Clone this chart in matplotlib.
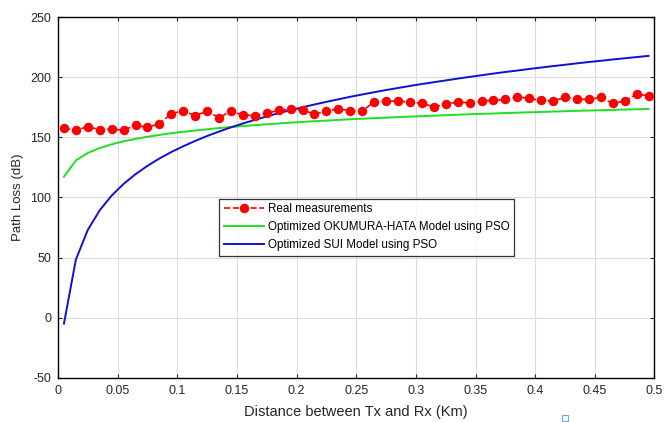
import matplotlib
matplotlib.use('Agg')
import matplotlib.pyplot as plt
from matplotlib.patches import Rectangle

plt.rcParams['font.family'] = ['Liberation Sans', 'DejaVu Sans']
plt.rcParams['axes.unicode_minus'] = False

# distance (km)
distance = [0.005, 0.015, 0.025, 0.035, 0.045, 0.055, 0.065, 0.075, 0.085, 0.095,
            0.105, 0.115, 0.125, 0.135, 0.145, 0.155, 0.165, 0.175, 0.185, 0.195,
            0.205, 0.215, 0.225, 0.235, 0.245, 0.255, 0.265, 0.275, 0.285, 0.295,
            0.305, 0.315, 0.325, 0.335, 0.345, 0.355, 0.365, 0.375, 0.385, 0.395,
            0.405, 0.415, 0.425, 0.435, 0.445, 0.455, 0.465, 0.475, 0.485, 0.495]

# measured path loss (dB)
measured = [157.5, 156.0, 158.8, 156.3, 156.9, 155.8, 160.2, 158.3, 161.3, 169.6,
            172.1, 168.0, 171.8, 166.3, 171.8, 168.5, 168.0, 169.9, 172.6, 173.2,
            172.6, 169.3, 171.8, 173.7, 172.1, 171.8, 179.5, 180.1, 180.1, 179.3,
            178.2, 175.4, 177.6, 179.3, 178.7, 180.1, 180.7, 181.5, 183.7, 182.3,
            180.7, 180.1, 183.2, 181.8, 181.5, 183.2, 178.2, 180.1, 185.9, 184.5]

# okumura-hata after pso
okumura = [117.3, 130.8, 137.0, 141.1, 144.2, 146.7, 148.7, 150.5, 152.0, 153.4,
           154.6, 155.7, 156.7, 157.7, 158.5, 159.4, 160.1, 160.8, 161.5, 162.2,
           162.8, 163.4, 163.9, 164.5, 165.0, 165.5, 165.9, 166.4, 166.8, 167.2,
           167.6, 168.0, 168.4, 168.8, 169.2, 169.5, 169.8, 170.2, 170.5, 170.8,
           171.1, 171.4, 171.7, 172.0, 172.3, 172.5, 172.8, 173.1, 173.3, 173.6]

# sui after pso
sui = [-4.8, 48.4, 73.1, 89.4, 101.6, 111.3, 119.4, 126.3, 132.4, 137.8,
       142.6, 147.0, 151.1, 154.8, 158.3, 161.5, 164.5, 167.4, 170.1, 172.6,
       175.0, 177.3, 179.5, 181.6, 183.7, 185.6, 187.5, 189.3, 191.0, 192.7,
       194.3, 195.8, 197.3, 198.8, 200.2, 201.6, 203.0, 204.3, 205.5, 206.8,
       208.0, 209.2, 210.3, 211.5, 212.6, 213.6, 214.7, 215.7, 216.7, 217.7]

x_ticks = [0, 0.05, 0.1, 0.15, 0.2, 0.25, 0.3, 0.35, 0.4, 0.45, 0.5]
x_tick_labels = ['0', '0.05', '0.1', '0.15', '0.2', '0.25', '0.3', '0.35', '0.4', '0.45', '0.5']
y_ticks = [-50, 0, 50, 100, 150, 200, 250]

fig = plt.figure(figsize=(6.65, 4.22), dpi=100)
ax = fig.add_axes([0.0872, 0.1043, 0.8970, 0.8554])

ax.plot(distance, measured, '--', color='#ff0000', lw=1.2, marker='o',
        markersize=5.8, markeredgecolor='#ff0000', markerfacecolor='#ff0000',
        label='Real measurements', zorder=3)
ax.plot(distance, okumura, '-', color='#1ee01e', lw=1.4,
        label='Optimized OKUMURA-HATA Model using PSO', zorder=2)
ax.plot(distance, sui, '-', color='#0f0fd6', lw=1.4,
        label='Optimized SUI Model using PSO', zorder=2)

ax.set_xlim(0, 0.5)
ax.set_ylim(-50, 250)
ax.set_xticks(x_ticks)
ax.set_xticklabels(x_tick_labels)
ax.set_yticks(y_ticks)
ax.grid(True, color='#dcdcdc', lw=0.8)
ax.set_axisbelow(True)
ax.tick_params(direction='in', top=True, right=True, length=3, width=0.8,
               labelsize=9, pad=5, colors='#262626')
for s in ax.spines.values():
    s.set_linewidth(1.0)
    s.set_color('black')

ax.set_xlabel('Distance between Tx and Rx (Km)', fontsize=10.5, color='#262626', labelpad=6)
ax.set_ylabel('Path Loss (dB)', fontsize=9.5, color='#262626', labelpad=4)

leg = ax.legend(loc='upper left', bbox_to_anchor=(0.2705, 0.497), fontsize=8.4,
                frameon=True, fancybox=False, borderpad=0.4, labelspacing=0.5,
                handlelength=3.4, handletextpad=0.35, borderaxespad=0)
leg.get_frame().set_edgecolor('black')
leg.get_frame().set_linewidth(0.9)

# small marker box under the x label
fig.patches.append(Rectangle((562 / 665, 1 - 421 / 422), 6 / 665, 6 / 422,
                             transform=fig.transFigure, fill=False,
                             edgecolor='#6fa8dc', lw=0.8))

fig.savefig('out.png', dpi=100)
